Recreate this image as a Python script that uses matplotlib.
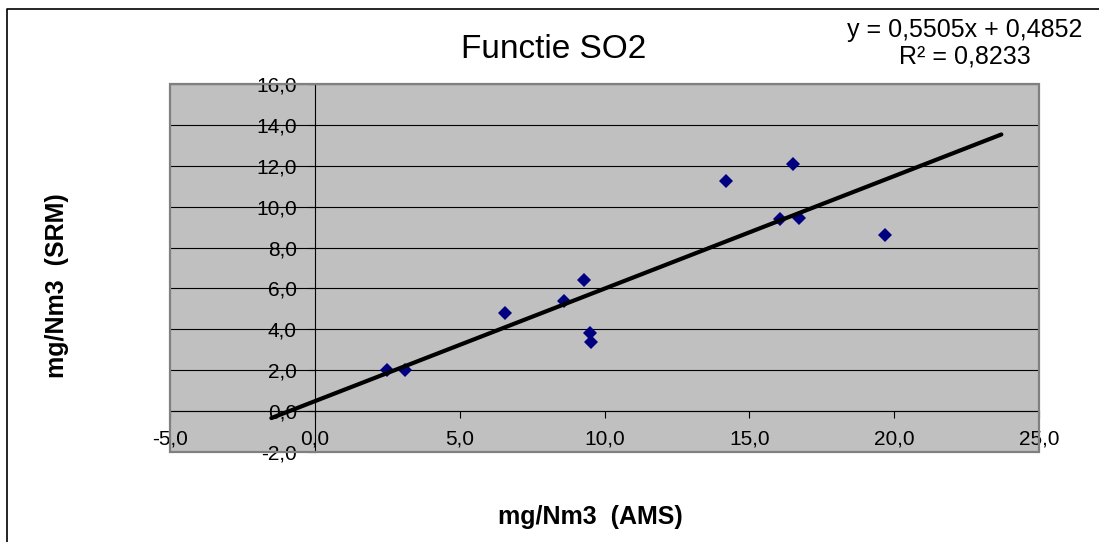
import matplotlib.pyplot as plt
from matplotlib.ticker import FuncFormatter, MultipleLocator
from matplotlib.patches import Rectangle
from matplotlib.lines import Line2D

plt.rcParams['font.family'] = ['Liberation Sans', 'DejaVu Sans']

# measured values (AMS vs SRM)
ams = [2.5, 3.1, 6.55, 8.6, 9.3, 9.5, 9.55, 14.2, 16.05, 16.5, 16.7, 19.7]
srm = [2.0, 2.0, 4.8, 5.4, 6.4, 3.8, 3.4, 11.25, 9.4, 12.1, 9.45, 8.6]

# trendline as reported in the chart
slope = 0.5505
intercept = 0.4852
r2 = 0.8233
trend_x = [-1.5, 23.7]


def comma(v):
    return f"{v:.4f}".replace('.', ',')


fig = plt.figure(figsize=(10.99, 5.42), dpi=100)
ax = fig.add_axes([170 / 1099, 1 - 452 / 542, 869 / 1099, 368 / 542])
ax.set_facecolor('#C0C0C0')

ax.set_xlim(-5, 25)
ax.set_ylim(-2, 16)
ax.xaxis.set_major_locator(MultipleLocator(5))
ax.yaxis.set_major_locator(MultipleLocator(2))
fmt = FuncFormatter(lambda v, p: f"{v:.1f}".replace('.', ','))
ax.xaxis.set_major_formatter(fmt)
ax.yaxis.set_major_formatter(fmt)

ax.yaxis.grid(True, color='black', linewidth=0.8)
ax.set_axisbelow(True)

for s in ['top', 'right']:
    ax.spines[s].set_visible(False)
ax.spines['left'].set_position(('data', 0))
ax.spines['bottom'].set_position(('data', 0))
for s in ['left', 'bottom']:
    ax.spines[s].set_linewidth(0.8)
    ax.spines[s].set_color('black')

ax.tick_params(axis='both', direction='out', length=5, width=0.8,
               labelsize=15, pad=8)

# grey plot-area frame
ax.add_patch(Rectangle((0, 0), 1, 1, transform=ax.transAxes, fill=False,
                       edgecolor='#808080', linewidth=1.6, clip_on=False,
                       zorder=5))

ax.plot(ams, srm, linestyle='none', marker='D', markersize=7,
        color='#000080', markeredgewidth=0, zorder=3)
ax.plot(trend_x, [slope * x + intercept for x in trend_x],
        color='black', linewidth=3, solid_capstyle='round', zorder=4)

fig.text(554 / 1099, 1 - 50 / 542, 'Functie SO2', fontsize=24,
         ha='center', va='center')
fig.text(965 / 1099, 1 - 43 / 542,
         f"y = {comma(slope)}x + {comma(intercept)}\nR\u00b2 = {comma(r2)}",
         fontsize=18, ha='center', va='center', linespacing=1.15)
fig.text(590 / 1099, 1 - 517 / 542, 'mg/Nm3  (AMS)', fontsize=18,
         fontweight='bold', ha='center', va='center')
fig.text(57 / 1099, 1 - 286 / 542, 'mg/Nm3  (SRM)', fontsize=18,
         fontweight='bold', ha='center', va='center', rotation=90)

# outer chart border (top and left visible)
fig.add_artist(Line2D([7 / 1099, 7 / 1099, 1.0], [0, 1 - 9 / 542, 1 - 9 / 542],
                      transform=fig.transFigure, color='black', linewidth=1.2))

fig.savefig('out.png', dpi=100)
